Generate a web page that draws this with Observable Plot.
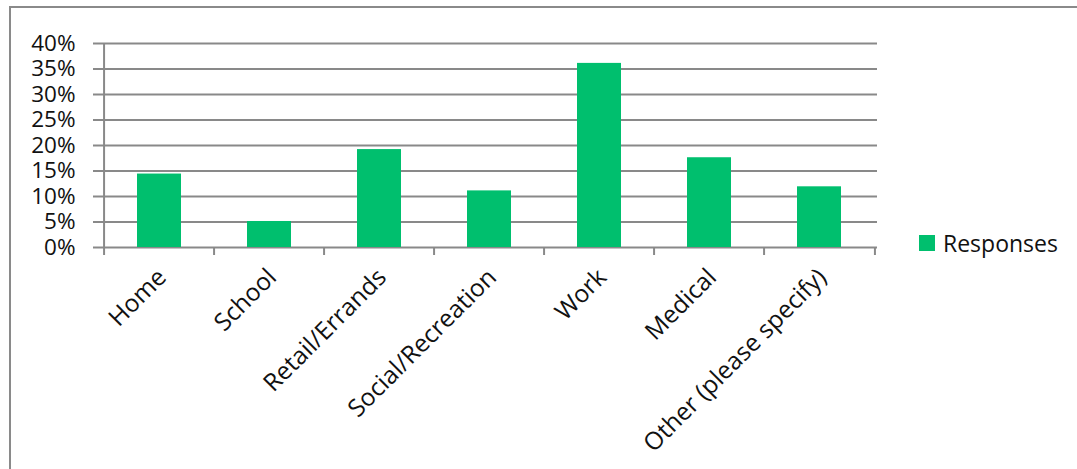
<!DOCTYPE html>
<html>
<head>
<meta charset="utf-8">
<script src="https://cdn.jsdelivr.net/npm/d3@7"></script>
<script src="https://cdn.jsdelivr.net/npm/@observablehq/plot@0.6"></script>
<style>
  html, body { margin: 0; padding: 0; background: #fff; }
  #wrap { position: relative; width: 1077px; height: 469px; overflow: hidden; font-family: "Open Sans", sans-serif; }
  #border { position: absolute; left: 9px; top: 6px; width: 1100px; height: 500px; border-top: 2px solid #8a8a8a; border-left: 2px solid #8a8a8a; box-sizing: border-box; }
  #legend { position: absolute; left: 919px; top: 227px; display: flex; align-items: center; font-size: 23px; color: #111; }
  #legend .sw { width: 16px; height: 16px; background: #00bf6e; margin-right: 8px; }
</style>
</head>
<body>
<div id="wrap">
  <div id="border"></div>
  <div id="chart"></div>
  <div id="legend"><div class="sw"></div><span>Responses</span></div>
</div>
<script>
const categories = ["Home", "School", "Retail/Errands", "Social/Recreation", "Work", "Medical", "Other (please specify)"];
const responses = [0.144, 0.051, 0.192, 0.111, 0.361, 0.176, 0.119];
const yTicks = [0, 0.05, 0.10, 0.15, 0.20, 0.25, 0.30, 0.35, 0.40];
const seriesName = "Responses";

const data = categories.map((c, i) => ({category: c, value: responses[i]}));

const W = 1077, H = 469;
const mL = 101, mR = 200, mT = 43, mB = 222;
const step = (W - mL - mR) / categories.length;
const grid = "#898989";

const chart = Plot.plot({
  width: W,
  height: H,
  marginLeft: mL,
  marginRight: mR,
  marginTop: mT,
  marginBottom: mB,
  style: {fontFamily: "Open Sans, sans-serif", fontSize: "22px", color: "#111", background: "transparent"},
  x: {domain: categories, paddingInner: 0.6, paddingOuter: 0.3, axis: null},
  y: {domain: [0, 0.4], axis: null},
  marks: [
    Plot.gridY(yTicks, {stroke: grid, strokeOpacity: 1, strokeWidth: 2}),
    Plot.axisY(yTicks, {tickSize: 8, tickPadding: 18, stroke: grid, strokeWidth: 2, tickFormat: d3.format(".0%"), fontSize: 22.5, label: null}),
    Plot.barY(data, {x: "category", y: "value", fill: "#00bf6e"}),
    Plot.ruleX([categories[0]], {y1: 0, y2: 0.4, dx: -step / 2, stroke: grid, strokeWidth: 2}),
    Plot.axisX(categories, {tickSize: 8, dx: -step / 2, stroke: grid, strokeWidth: 2, tickFormat: null, label: null}),
    Plot.axisX([categories[categories.length - 1]], {tickSize: 8, dx: step / 2, stroke: grid, strokeWidth: 2, tickFormat: null, label: null}),
    Plot.text(data, {x: "category", frameAnchor: "bottom", text: "category", rotate: -45, textAnchor: "end", lineAnchor: "top", dy: 19, dx: -4, fontSize: 24.5, fill: "#111"})
  ]
});
document.getElementById("chart").appendChild(chart);
document.querySelector("#legend span").textContent = seriesName;
</script>
</body>
</html>
